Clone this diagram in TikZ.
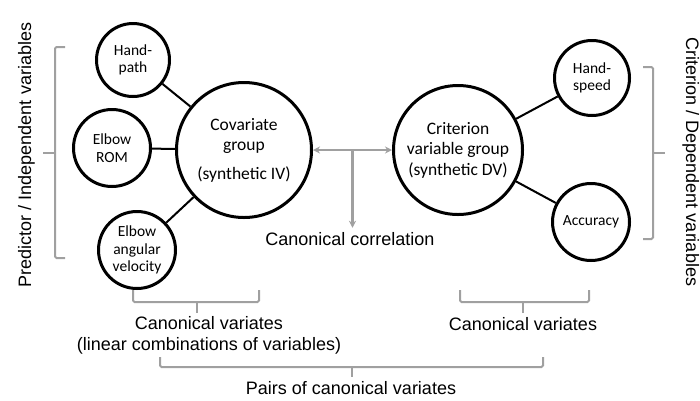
\documentclass[tikz,border=0pt]{standalone}
\usepackage{fontspec}
\setmainfont{Liberation Sans}
\newfontfamily\calfont{Carlito}
\usetikzlibrary{arrows.meta,calc}
\definecolor{brk}{RGB}{160,160,160}
\begin{document}
\begin{tikzpicture}[x=1pt,y=-1pt,
  bubble/.style={circle,draw,line width=3pt,inner sep=0pt,align=center,font=\calfont\fontsize{15.5}{17.5}\selectfont},
  big/.style={bubble,font=\calfont\fontsize{17.5}{20.5}\selectfont},
  link/.style={line width=2pt},
  brace/.style={draw=brk,line width=2pt,rounded corners=1.5pt},
  arr/.style={draw=brk,line width=2.2pt},
  lab/.style={font=\fontsize{18}{21}\selectfont,inner sep=0pt,align=center}]
\useasboundingbox (0,0) rectangle (700,400);

% circles
\node[bubble,minimum size=73pt] (hp) at (133,60) {Hand-\\path};
\node[bubble,minimum size=77pt] (rom) at (112,148) {Elbow\\ROM};
\node[bubble,minimum size=77pt] (eav) at (137,250) {Elbow\\angular\\velocity};
\node[big,minimum size=135pt] (cov) at (244,150) {Covariate\\group\\[8pt](synthetic IV)};
\node[big,minimum size=129pt] (crit) at (458,150) {Criterion\\variable group\\(synthetic DV)};
\node[bubble,minimum size=75pt] (hs) at (592,78) {Hand-\\speed};
\node[bubble,minimum size=77pt] (acc) at (591,222) {Accuracy};

% links
\draw[link] (hp) -- (cov);
\draw[link] (rom) -- (cov);
\draw[link] (eav) -- (cov);
\draw[link] (crit) -- (hs);
\draw[link] (crit) -- (acc);

% canonical correlation
\node[lab,anchor=base] (cc) at (350,245) {Canonical correlation};
\draw[arr,{Stealth[length=7pt,width=7pt]}-{Stealth[length=7pt,width=7pt]}] (cov.east) -- (crit.west);
\coordinate (mid) at ($(cov.east)!0.5!(crit.west)$);
\draw[arr,-{Stealth[length=7pt,width=7pt]}] (mid) -- ($(mid |- cc.north)+(0,-4)$);

% side labels
\node[lab,anchor=base,rotate=90] (pred) at (31,155) {Predictor / Independent variables};
\node[lab,anchor=base,rotate=-90] (dep) at (686,162) {Criterion / Dependent variables};

% side brackets
\draw[brace] (65,47) -- (55,47) -- (55,258) -- (65,258);
\draw[brace] (55,153) -- (43,153);
\draw[brace] (643,67) -- (653,67) -- (653,239) -- (643,239);
\draw[brace] (653,153) -- (665,153);

% bottom brackets
\draw[brace] (133,290) -- (133,302) -- (259,302) -- (259,290);
\draw[brace] (197,302) -- (197,313);
\draw[brace] (460,290) -- (460,302) -- (589,302) -- (589,290);
\draw[brace] (523,302) -- (523,313);
\draw[brace] (160,357) -- (160,367) -- (543,367) -- (543,357);
\draw[brace] (352,367) -- (352,377);

% bottom labels
\node[lab,anchor=north] (cvl) at (209,316) {Canonical variates\\(linear combinations of variables)};
\node[lab,anchor=base] (cvr) at (523,330) {Canonical variates};
\node[lab,anchor=base] (pairs) at (351,394) {Pairs of canonical variates};
\end{tikzpicture}
\end{document}
